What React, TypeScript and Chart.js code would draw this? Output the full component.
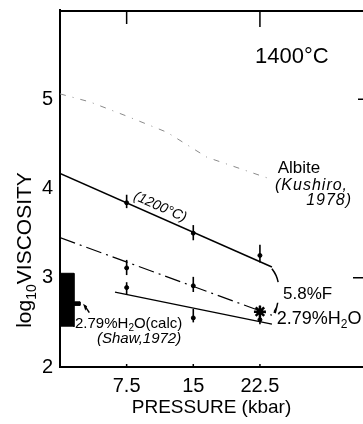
import React, { useEffect, useRef } from 'react';
import { Chart, registerables } from 'chart.js';

Chart.register(...registerables);

const FONT = '"Liberation Sans", Arial, sans-serif';

// axis ticks
const xTicks = [7.5, 15, 22.5];
const yTicks = [2, 3, 4, 5];

// measured pressures (kbar)
const pressures = [7.5, 15, 22.5];

// 1200 °C run
const visc1200 = [3.84, 3.5, 3.25];
const visc1200Lo = [3.78, 3.42, 3.17];
const visc1200Hi = [3.93, 3.59, 3.37];
const fit1200X = [0, 23.85];
const fit1200Y = [4.17, 3.12];

// 5.8% F
const viscF = [3.11, 2.91, 2.62];
const viscFLo = [3.03, 2.84, 2.55];
const viscFHi = [3.2, 3.01, 2.69];
const fitFX = [0, 23.85];
const fitFY = [3.45, 2.58];

// 2.79% H2O
const viscH2O = [2.89, 2.55, 2.53];
const viscH2OLo = [2.81, 2.5, 2.48];
const viscH2OHi = [2.95, 2.65, 2.6];
const fitH2OX = [6.19, 23.85];
const fitH2OY = [2.84, 2.48];

// Albite (Kushiro, 1978)
const albiteX = [0, 3.37, 7.54, 12.04, 16.54, 23.28];
const albiteY = [5.06, 4.97, 4.81, 4.63, 4.35, 4.12];

// 2.79% H2O calculated (Shaw, 1972)
const shawX = [0, 0, 1.57, 1.57, 2.25, 2.25, 1.57, 1.57];
const shawY = [2.45, 3.05, 3.05, 2.73, 2.73, 2.69, 2.69, 2.45];

const pts = (xs: number[], ys: number[]) => xs.map((x, i) => ({ x, y: ys[i] }));

const errorBarPlugin = {
  id: 'errorBars',
  afterDatasetsDraw(chart: any) {
    const { ctx } = chart;
    const xs = chart.scales.x;
    const ys = chart.scales.y;
    ctx.save();
    ctx.setLineDash([]);
    chart.data.datasets.forEach((ds: any) => {
      if (!ds.errLo) return;
      ctx.strokeStyle = '#000';
      ctx.lineWidth = 1.6;
      ds.data.forEach((p: any, i: number) => {
        const px = xs.getPixelForValue(p.x);
        const y1 = ys.getPixelForValue(ds.errLo[i]);
        const y2 = ys.getPixelForValue(ds.errHi[i]);
        ctx.beginPath();
        ctx.moveTo(px, y1);
        ctx.lineTo(px, y2);
        ctx.stroke();
      });
    });
    ctx.restore();
  },
};

type Part = { t: string; size: number; dy: number; italic?: boolean };

function drawRich(ctx: any, parts: Part[], x: number, y: number) {
  let cx = x;
  for (const p of parts) {
    ctx.font = `${p.italic ? 'italic ' : ''}${p.size}px ${FONT}`;
    ctx.fillText(p.t, cx, y + p.dy);
    cx += ctx.measureText(p.t).width;
  }
  return cx - x;
}

function richWidth(ctx: any, parts: Part[]) {
  let w = 0;
  for (const p of parts) {
    ctx.font = `${p.italic ? 'italic ' : ''}${p.size}px ${FONT}`;
    w += ctx.measureText(p.t).width;
  }
  return w;
}

const annotationPlugin = {
  id: 'annotations',
  afterDraw(chart: any) {
    const { ctx } = chart;
    const xs = chart.scales.x;
    const ys = chart.scales.y;
    const X = (v: number) => xs.getPixelForValue(v);
    const Y = (v: number) => ys.getPixelForValue(v);
    const top = ys.top;
    const bottom = ys.bottom;
    const left = xs.left;
    const right = xs.right;
    ctx.save();
    ctx.setLineDash([]);
    ctx.fillStyle = '#000';
    ctx.strokeStyle = '#000';

    // top frame line and inward ticks
    ctx.lineWidth = 2;
    ctx.beginPath();
    ctx.moveTo(left - 1, top + 1);
    ctx.lineTo(right + 2, top + 1);
    ctx.stroke();
    ctx.lineWidth = 1.5;
    ctx.beginPath();
    ctx.moveTo(X(7.5), top);
    ctx.lineTo(X(7.5), top + 14);
    ctx.moveTo(X(22.5), top);
    ctx.lineTo(X(22.5), top + 17);
    // bottom small ticks
    for (const v of xTicks) {
      ctx.moveTo(X(v), bottom);
      ctx.lineTo(X(v), bottom - 3);
    }
    // right inward ticks
    ctx.moveTo(right, Y(3));
    ctx.lineTo(right - 10, Y(3));
    ctx.moveTo(right, Y(5));
    ctx.lineTo(right - 5, Y(5));
    ctx.stroke();

    ctx.textBaseline = 'alphabetic';
    ctx.textAlign = 'left';

    // 1400°C
    ctx.font = `22px ${FONT}`;
    ctx.textAlign = 'center';
    ctx.textBaseline = 'middle';
    ctx.fillText('1400°C', X(26.1), Y(5.47));
    ctx.textAlign = 'left';
    ctx.textBaseline = 'alphabetic';

    // Albite label
    ctx.font = `17px ${FONT}`;
    ctx.fillText('Albite', X(24.5), Y(4.17));
    ctx.font = `italic 16px ${FONT}`;
    (ctx as any).letterSpacing = '1px';
    ctx.fillText('(Kushiro,', X(24.2), Y(3.98));
    ctx.fillText('1978)', X(27.7), Y(3.81));
    (ctx as any).letterSpacing = '0px';

    // 5.8%F
    ctx.font = `17px ${FONT}`;
    ctx.fillText('5.8%F', X(25.1), Y(2.76));

    // 2.79%H2O
    drawRich(ctx, [
      { t: '2.79%H', size: 18, dy: 0 },
      { t: '2', size: 12, dy: 4 },
      { t: 'O', size: 18, dy: 0 },
    ], X(24.4), Y(2.48));

    // calc label
    drawRich(ctx, [
      { t: '2.79%H', size: 15, dy: 0 },
      { t: '2', size: 10, dy: 3 },
      { t: 'O(calc)', size: 15, dy: 0 },
    ], X(1.69), Y(2.44));
    ctx.font = `italic 15px ${FONT}`;
    ctx.fillText('(Shaw,1972)', X(4.16), Y(2.27));

    // (1200°C) along the line
    const ang = Math.atan2(Y(fit1200Y[1]) - Y(fit1200Y[0]), X(fit1200X[1]) - X(fit1200X[0]));
    ctx.save();
    ctx.translate(X(8.2), Y(3.88));
    ctx.rotate(ang);
    ctx.font = `italic 14px ${FONT}`;
    ctx.fillText('(1200°C)', 0, 0);
    ctx.restore();

    // dashed pointers for 5.8%F
    ctx.lineWidth = 1.5;
    ctx.beginPath();
    ctx.moveTo(X(23.85), Y(3.1));
    ctx.quadraticCurveTo(X(24.4), Y(3.03), X(24.55), Y(2.95));
    ctx.moveTo(X(24.5), Y(2.72));
    ctx.quadraticCurveTo(X(24.45), Y(2.66), X(24.1), Y(2.62));
    ctx.stroke();
    ctx.beginPath();
    ctx.moveTo(X(24.0), Y(2.61));
    ctx.lineTo(X(24.45), Y(2.66));
    ctx.lineTo(X(24.3), Y(2.6));
    ctx.closePath();
    ctx.fill();

    // pointer for calc
    ctx.beginPath();
    ctx.moveTo(X(2.75), Y(2.69));
    ctx.lineTo(X(3.3), Y(2.61));
    ctx.stroke();
    ctx.beginPath();
    ctx.moveTo(X(2.6), Y(2.71));
    ctx.lineTo(X(3.05), Y(2.68));
    ctx.lineTo(X(2.85), Y(2.63));
    ctx.closePath();
    ctx.fill();

    // y-axis title with subscript
    const parts: Part[] = [
      { t: 'log', size: 21, dy: 0 },
      { t: '10', size: 14, dy: 5 },
      { t: 'VISCOSITY', size: 21, dy: 0 },
    ];
    const w = richWidth(ctx, parts);
    ctx.save();
    ctx.translate(31, 250);
    ctx.rotate(-Math.PI / 2);
    drawRich(ctx, parts, -w / 2, 0);
    ctx.restore();

    ctx.restore();
  },
};

export default function App() {
  const ref = useRef<HTMLCanvasElement>(null);
  useEffect(() => {
    if (!ref.current) return;
    const chart = new Chart(ref.current, {
      type: 'scatter',
      data: {
        datasets: [
          {
            type: 'line',
            label: 'Albite (Kushiro, 1978)',
            data: pts(albiteX, albiteY),
            borderColor: '#8a8a8a',
            borderWidth: 1,
            borderDash: [6, 7, 1, 7],
            pointRadius: 0,
            fill: false,
          },
          {
            type: 'line',
            label: '1200°C fit',
            data: pts(fit1200X, fit1200Y),
            borderColor: '#000',
            borderWidth: 1.5,
            pointRadius: 0,
            fill: false,
          },
          {
            type: 'line',
            label: '5.8%F fit',
            data: pts(fitFX, fitFY),
            borderColor: '#000',
            borderWidth: 1.2,
            borderDash: [16, 5, 2, 5],
            pointRadius: 0,
            fill: false,
          },
          {
            type: 'line',
            label: '2.79%H2O fit',
            data: pts(fitH2OX, fitH2OY),
            borderColor: '#000',
            borderWidth: 1.3,
            pointRadius: 0,
            fill: false,
          },
          {
            type: 'line',
            label: 'Shaw 1972',
            data: pts(shawX, shawY),
            borderColor: '#000',
            backgroundColor: '#000',
            borderWidth: 1,
            pointRadius: 0,
            fill: 'shape',
          },
          {
            label: '1200°C',
            data: pts(pressures, visc1200),
            errLo: visc1200Lo,
            errHi: visc1200Hi,
            pointRadius: 2,
            pointBackgroundColor: '#000',
            pointBorderColor: '#000',
            showLine: false,
          } as any,
          {
            label: '5.8%F',
            data: pts(pressures, viscF),
            errLo: viscFLo,
            errHi: viscFHi,
            pointStyle: ['circle', 'circle', 'star'],
            pointRadius: [2, 2, 6],
            pointBorderWidth: [1, 1, 2.5],
            pointBackgroundColor: '#000',
            pointBorderColor: '#000',
            showLine: false,
          } as any,
          {
            label: '2.79%H2O',
            data: pts(pressures, viscH2O),
            errLo: viscH2OLo,
            errHi: viscH2OHi,
            pointRadius: 2,
            pointBackgroundColor: '#000',
            pointBorderColor: '#000',
            showLine: false,
          } as any,
        ],
      },
      options: {
        responsive: false,
        animation: false,
        layout: { autoPadding: false, padding: { top: 10, right: 0, left: 0, bottom: 0 } },
        plugins: { legend: { display: false }, tooltip: { enabled: false } },
        scales: {
          x: {
            type: 'linear',
            min: 0,
            max: 34.1,
            offset: false,
            afterFit: (s: any) => {
              s.height = 57;
              s.paddingLeft = 0;
              s.paddingRight = 0;
            },
            afterBuildTicks: (s: any) => {
              s.ticks = xTicks.map((v) => ({ value: v }));
            },
            ticks: {
              color: '#000',
              font: { family: FONT, size: 20, lineHeight: 1 },
              padding: 9,
              maxRotation: 0,
              autoSkip: false,
              callback: (v: any) => String(v),
            },
            grid: { display: false, drawTicks: false },
            border: { display: true, color: '#000', width: 2 },
            title: {
              display: true,
              text: 'PRESSURE (kbar)',
              color: '#000',
              font: { family: FONT, size: 19 },
              padding: { top: 0, bottom: 5 },
            },
          },
          y: {
            type: 'linear',
            min: 2,
            max: 6,
            afterFit: (s: any) => {
              s.width = 60;
              s.paddingTop = 0;
              s.paddingBottom = 0;
            },
            afterBuildTicks: (s: any) => {
              s.ticks = yTicks.map((v) => ({ value: v }));
            },
            ticks: {
              color: '#000',
              font: { family: FONT, size: 20, lineHeight: 1 },
              padding: 7,
              callback: (v: any) => String(v),
            },
            grid: { display: false, drawTicks: false },
            border: { display: true, color: '#000', width: 2 },
          },
        },
      },
      plugins: [errorBarPlugin, annotationPlugin],
    } as any);
    return () => chart.destroy();
  }, []);
  return (
    <div style={{ position: 'fixed', left: 0, top: 0, width: 363, height: 424, background: '#fff' }}>
      <canvas ref={ref} width={363} height={424} style={{ display: 'block' }} />
    </div>
  );
}
